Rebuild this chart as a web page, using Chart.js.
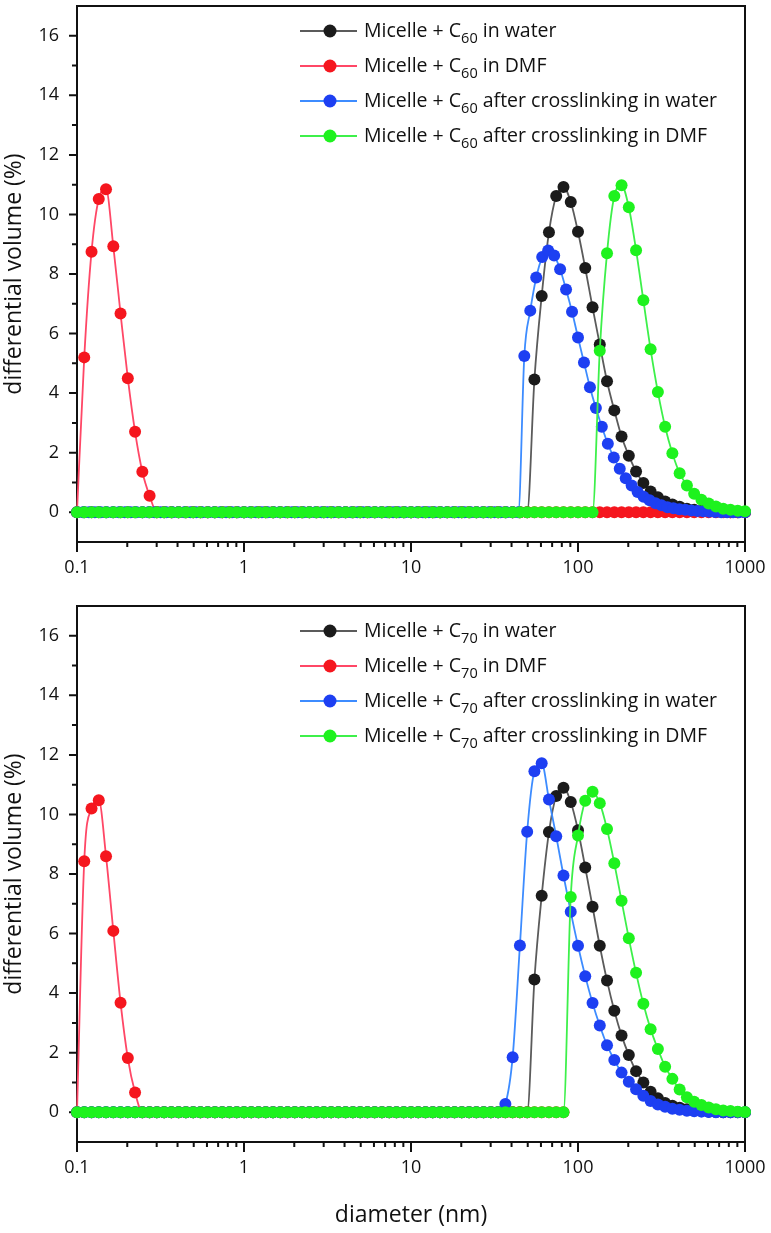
<!DOCTYPE html>
<html><head><meta charset="utf-8">
<script src="https://cdn.jsdelivr.net/npm/chart.js@4.4.1/dist/chart.umd.min.js"></script>
<style>
html,body{margin:0;padding:0;background:#fff;}
#wrap{position:relative;width:771px;height:1233px;background:#fff;}
canvas{position:absolute;left:0;}
#c1{top:0;}
#c2{top:600px;}
</style></head><body>
<div id="wrap"><canvas id="c1" width="771" height="600"></canvas><canvas id="c2" width="771" height="633"></canvas></div>
<script>
// ---- diameter bins (nm), 23 per decade ----
const diam23 = [
0.1,0.1105,0.1222,0.1350,0.1492,0.1650,0.1823,0.2015,0.2227,0.2462,0.2721,0.3008,0.3324,0.3674,0.4061,0.4489,0.4962,0.5484,0.6061,0.6700,0.7405,0.8185,0.9047,
1,1.105,1.222,1.350,1.492,1.650,1.823,2.015,2.227,2.462,2.721,3.008,3.324,3.674,4.061,4.489,4.962,5.484,6.061,6.700,7.405,8.185,9.047,
10,11.05,12.22,13.50,14.92,16.50,18.23,20.15,22.27,24.62,27.21,30.08,33.24,36.74,40.61,44.89,49.62,54.84,60.61,67.00,74.05,81.85,90.47,
100,110.5,122.2,135.0,149.2,165.0,182.3,201.5,222.7,246.2,272.1,300.8,332.4,367.4,406.1,448.9,496.2,548.4,606.1,670.0,740.5,818.5,904.7,
1000,1105];
// ---- diameter bins (nm), 28 per decade (C60 after crosslinking in water) ----
const diam28 = [
0.1,0.1086,0.1179,0.1280,0.1389,0.1509,0.1638,0.1778,0.1931,0.2096,0.2276,0.2471,0.2683,0.2913,0.3162,0.3433,0.3728,0.4047,0.4394,0.4771,0.5179,0.5623,0.6105,0.6629,0.7197,0.7814,0.8483,0.9211,
1,1.086,1.179,1.280,1.389,1.509,1.638,1.778,1.931,2.096,2.276,2.471,2.683,2.913,3.162,3.433,3.728,4.047,4.394,4.771,5.179,5.623,6.105,6.629,7.197,7.814,8.483,9.211,
10,10.86,11.79,12.80,13.89,15.09,16.38,17.78,19.31,20.96,22.76,24.71,26.83,29.13,31.62,34.33,37.28,40.47,43.94,47.71,51.79,56.23,61.05,66.29,71.97,78.14,84.83,92.11,
100,108.6,117.9,128.0,138.9,150.9,163.8,177.8,193.1,209.6,227.6,247.1,268.3,291.3,316.2,343.3,372.8,404.7,439.4,477.1,517.9,562.3,610.5,662.9,719.7,781.4,848.3,921.1,
1000];

// ---- C60 panel ----
const c60Water = [
0,0,0,0,0,0,0,0,0,0, 0,0,0,0,0,0,0,0,0,0, 0,0,0,0,0,0,0,0,0,0, 0,0,0,0,0,0,0,0,0,0,
0,0,0,0,0,0,0,0,0,0, 0,0,0,0,0,0,0,0,0,0, 0,0,0,
4.46,7.26,9.4,10.62,10.92,10.42,9.42,8.2,6.88,5.63,4.4,3.42,2.54,1.9,1.37,0.98,0.7,0.5,0.36,0.26,0.18,0.12,0.08,0.05,0.03,0.02,0.01,
0,0,0,0];
const c60DMF = [
0,5.2,8.75,10.52,10.85,8.93,6.67,4.5,2.7,1.36,0.55,
0,0,0,0,0,0,0,0,0,0, 0,0,0,0,0,0,0,0,0,0, 0,0,0,0,0,0,0,0,0,0, 0,0,0,0,0,0,0,0,0,0,
0,0,0,0,0,0,0,0,0,0, 0,0,0,0,0,0,0,0,0,0, 0,0,0,0,0,0,0,0,0,0, 0,0,0,0,0,0,0,0,0,0, 0,0,0];
const c60XWater = [
0,0,0,0,0,0,0,0,0,0, 0,0,0,0,0,0,0,0,0,0, 0,0,0,0,0,0,0,0,0,0, 0,0,0,0,0,0,0,0,0,0,
0,0,0,0,0,0,0,0,0,0, 0,0,0,0,0,0,0,0,0,0, 0,0,0,0,0,0,0,0,0,0, 0,0,0,0,0,
5.25,6.77,7.88,8.57,8.79,8.62,8.16,7.48,6.73,5.87,5.03,4.2,3.5,2.87,2.3,1.84,1.46,1.14,0.9,0.68,0.52,0.4,0.3,0.23,0.17,0.13,0.1,0.08,0.06,0.04,0.03,0.02,0.01,
0,0,0,0,0];
const c60XDMF = [
0,0,0,0,0,0,0,0,0,0, 0,0,0,0,0,0,0,0,0,0, 0,0,0,0,0,0,0,0,0,0, 0,0,0,0,0,0,0,0,0,0,
0,0,0,0,0,0,0,0,0,0, 0,0,0,0,0,0,0,0,0,0, 0,0,0,0,0,0,0,0,0,0, 0,0,
5.42,8.7,10.62,10.98,10.24,8.8,7.12,5.47,4.04,2.87,1.98,1.31,0.9,0.62,0.42,0.29,0.19,0.12,0.08,0.05,0.03,0.01];

// ---- C70 panel ----
const c70Water = [
0,0,0,0,0,0,0,0,0,0, 0,0,0,0,0,0,0,0,0,0, 0,0,0,0,0,0,0,0,0,0, 0,0,0,0,0,0,0,0,0,0,
0,0,0,0,0,0,0,0,0,0, 0,0,0,0,0,0,0,0,0,0, 0,0,0,
4.46,7.27,9.41,10.62,10.9,10.42,9.47,8.22,6.9,5.59,4.42,3.41,2.58,1.92,1.38,1.0,0.69,0.47,0.31,0.22,0.15,0.1,0.07,0.04,0.02,0.01,
0,0,0,0,0];
const c70DMF = [
0,8.43,10.2,10.48,8.6,6.09,3.68,1.82,0.66,
0,0,0,0,0,0,0,0,0,0, 0,0,0,0,0,0,0,0,0,0, 0,0,0,0,0,0,0,0,0,0, 0,0,0,0,0,0,0,0,0,0,
0,0,0,0,0,0,0,0,0,0, 0,0,0,0,0,0,0,0,0];
const c70XWater = [
0,0,0,0,0,0,0,0,0,0, 0,0,0,0,0,0,0,0,0,0, 0,0,0,0,0,0,0,0,0,0, 0,0,0,0,0,0,0,0,0,0,
0,0,0,0,0,0,0,0,0,0, 0,0,0,0,0,0,0,0,0,
0.28,1.85,5.6,9.42,11.45,11.72,10.5,9.27,7.95,6.73,5.59,4.57,3.67,2.91,2.25,1.75,1.33,1.02,0.77,0.55,0.38,0.26,0.18,0.12,0.08,0.05,0.03,0.02,0.01,
0,0,0,0,0,0];
const c70XDMF = [
0,0,0,0,0,0,0,0,0,0, 0,0,0,0,0,0,0,0,0,0, 0,0,0,0,0,0,0,0,0,0, 0,0,0,0,0,0,0,0,0,0,
0,0,0,0,0,0,0,0,0,0, 0,0,0,0,0,0,0,0,0,0, 0,0,0,0,0,0,0,0,
7.23,9.29,10.46,10.76,10.38,9.51,8.36,7.1,5.84,4.68,3.64,2.79,2.12,1.53,1.12,0.76,0.5,0.35,0.24,0.16,0.1,0.06,0.04,0.02,0.01,0];

// ---- axis ticks & labels ----
const xTickVals = [0.1, 1, 10, 100, 1000];
const xTickLabels = ['0.1', '1', '10', '100', '1000'];
const xMinorVals = [0.2,0.3,0.4,0.5,0.6,0.7,0.8,0.9, 2,3,4,5,6,7,8,9, 20,30,40,50,60,70,80,90, 200,300,400,500,600,700,800,900];
const yTickVals = [0, 2, 4, 6, 8, 10, 12, 14, 16];
const yMinorVals = [1, 3, 5, 7, 9, 11, 13, 15];
const seriesNames = ['in water', 'in DMF', 'after crosslinking in water', 'after crosslinking in DMF'];

const FONT = '"Open Sans", "DejaVu Sans", sans-serif';
const styles = [
  {line: '#5b5b5b', point: '#1b1b1b', order: 4},
  {line: '#ff4766', point: '#f5161e', order: 3},
  {line: '#3d8cff', point: '#1d3ff2', order: 2},
  {line: '#3df04a', point: '#1ef21e', order: 1}
];

const PLOT_TOP = 2, PLOT_BOTTOM = 542, PLOT_LEFT = 77, PLOT_RIGHT = 745;

const framePlugin = {
  id: 'frameTicks',
  beforeDatasetsDraw(chart) {
    const {ctx, chartArea: a} = chart;
    ctx.save();
    ctx.strokeStyle = '#111';
    ctx.lineWidth = 2;
    ctx.strokeRect(a.left, a.top, a.right - a.left, a.bottom - a.top);
    const xs = chart.scales.x, ys = chart.scales.y;
    ctx.beginPath();
    xTickVals.forEach(v => { const p = xs.getPixelForValue(v); ctx.moveTo(p, a.bottom); ctx.lineTo(p, a.bottom + 10); });
    xMinorVals.forEach(v => { const p = xs.getPixelForValue(v); ctx.moveTo(p, a.bottom); ctx.lineTo(p, a.bottom + 5); });
    yTickVals.forEach(v => { const p = ys.getPixelForValue(v); ctx.moveTo(a.left, p); ctx.lineTo(a.left - 8, p); });
    yMinorVals.forEach(v => { const p = ys.getPixelForValue(v); ctx.moveTo(a.left, p); ctx.lineTo(a.left - 5, p); });
    ctx.stroke();
    ctx.restore();
  }
};

function legendPlugin(sub) {
  return {
    id: 'subLegend',
    afterDraw(chart) {
      const ctx = chart.ctx;
      ctx.save();
      const rows = [31, 66, 101, 136];
      seriesNames.forEach((name, i) => {
        const y = rows[i], st = styles[i];
        ctx.strokeStyle = st.line; ctx.lineWidth = 2;
        ctx.beginPath(); ctx.moveTo(300, y); ctx.lineTo(357, y); ctx.stroke();
        ctx.fillStyle = st.point;
        ctx.beginPath(); ctx.arc(330, y, 6.5, 0, Math.PI * 2); ctx.fill();
        ctx.fillStyle = '#111';
        ctx.textBaseline = 'middle';
        ctx.textAlign = 'left';
        let x = 364;
        ctx.font = '19.5px ' + FONT;
        ctx.fillText('Micelle + C', x, y);
        x += ctx.measureText('Micelle + C').width;
        ctx.font = '14.5px ' + FONT;
        ctx.fillText(sub, x, y + 8);
        x += ctx.measureText(sub).width;
        ctx.font = '19.5px ' + FONT;
        ctx.fillText(' ' + name, x, y);
      });
      ctx.restore();
    }
  };
}

function buildChart(id, canvasH, series, sub, showXTitle) {
  return new Chart(document.getElementById(id), {
    type: 'line',
    data: {
      datasets: series.map((s, i) => ({
        label: 'Micelle + C' + sub + ' ' + seriesNames[i],
        data: s.x.map((d, k) => ({x: d, y: s.y[k]})),
        borderColor: styles[i].line,
        backgroundColor: styles[i].point,
        pointBackgroundColor: styles[i].point,
        pointBorderWidth: 0,
        pointRadius: 6,
        pointHoverRadius: 6,
        borderWidth: 1.8,
        cubicInterpolationMode: 'monotone',
        clip: false,
        fill: false,
        order: styles[i].order
      }))
    },
    options: {
      responsive: false,
      animation: false,
      devicePixelRatio: 1,
      events: [],
      layout: {padding: {top: PLOT_TOP, right: 771 - PLOT_RIGHT, left: 0, bottom: 0}},
      plugins: {legend: {display: false}, tooltip: {enabled: false}},
      scales: {
        x: {
          type: 'logarithmic', min: 0.1, max: 1000,
          afterBuildTicks: s => { s.ticks = xTickVals.map(v => ({value: v})); },
          afterFit: s => { s.height = canvasH - PLOT_BOTTOM; s.paddingLeft = 0; s.paddingRight = 0; s.paddingTop = 0; s.paddingBottom = 0; },
          grid: {display: false, drawTicks: false},
          border: {display: false},
          ticks: {
            autoSkip: false, maxRotation: 0, minRotation: 0, padding: 15, color: '#111',
            font: {family: FONT, size: 18},
            callback: v => { const j = xTickVals.indexOf(v); return j >= 0 ? xTickLabels[j] : ''; }
          },
          title: {display: showXTitle, text: 'diameter (nm)', color: '#111',
                  font: {family: FONT, size: 23}, padding: {top: 0, bottom: 4}}
        },
        y: {
          min: -1, max: 17,
          afterBuildTicks: s => { s.ticks = yTickVals.map(v => ({value: v})); },
          afterFit: s => { s.width = PLOT_LEFT; s.paddingTop = 0; s.paddingBottom = 0; s.paddingLeft = 0; s.paddingRight = 0; },
          grid: {display: false, drawTicks: false},
          border: {display: false},
          ticks: {padding: 18, color: '#111', font: {family: FONT, size: 18}},
          title: {display: true, text: 'differential volume (%)', color: '#111',
                  font: {family: FONT, size: 23}, padding: {top: 1, bottom: 0}}
        }
      }
    },
    plugins: [framePlugin, legendPlugin(sub)]
  });
}

buildChart('c1', 600, [
  {x: diam23, y: c60Water},
  {x: diam23, y: c60DMF},
  {x: diam28, y: c60XWater},
  {x: diam23, y: c60XDMF}
], '60', false);

buildChart('c2', 633, [
  {x: diam23, y: c70Water},
  {x: diam23.slice(0, c70DMF.length), y: c70DMF},
  {x: diam23, y: c70XWater},
  {x: diam23, y: c70XDMF}
], '70', true);
</script>
</body></html>
